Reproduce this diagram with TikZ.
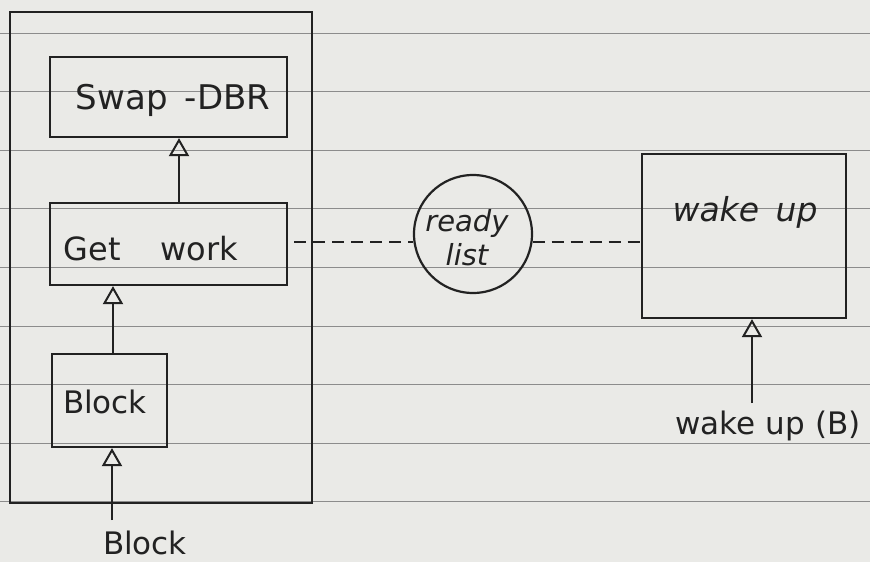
\documentclass[tikz,border=0pt]{standalone}
\usepackage{fontspec}
\setmainfont{DejaVu Sans}
\usetikzlibrary{arrows.meta,calc}
\definecolor{paper}{HTML}{EAEAE7}
\definecolor{ink}{HTML}{222222}
\definecolor{rule}{HTML}{8C8C8C}
\tikzset{
  ink/.style={draw=ink, line width=2.2pt},
  boxnode/.style={ink, rectangle, inner sep=0pt},
  txt/.style={text=ink, inner sep=0pt, font=\fontsize{31}{36}\selectfont},
  openarr/.style={draw=ink, line width=2pt, -{Triangle[open, width=20pt, length=18pt, line width=2pt]}},
  dashline/.style={draw=ink, line width=1.8pt, dash pattern=on 12pt off 7pt},
  ruled/.style={draw=rule, line width=1pt}
}
\begin{document}
\begin{tikzpicture}[x=1pt,y=-1pt]
  \fill[paper] (0,0) rectangle (870,562);
  \useasboundingbox (0,0) rectangle (870,562);
  % ruled paper
  \foreach \yy in {33,91,150,208,267,326,384,443,501}
    \draw[ruled] (0,\yy) -- (870,\yy);

  % outer frame
  \node[boxnode, line width=1.8pt, minimum width=302pt, minimum height=491pt] (outer) at (161,257.5) {};

  % boxes
  \node[boxnode, minimum width=237pt, minimum height=80pt] (swap) at (168.5,97) {};
  \node[txt, font=\fontsize{34}{40}\selectfont] (swaptxt) at (173,100) {Swap\,\,\,-DBR};

  \node[boxnode, minimum width=237pt, minimum height=82pt] (getwork) at (168.5,244) {};
  \node[txt, font=\fontsize{32}{38}\selectfont] (gettxt) at (151,249) {Get\hspace{40pt}work};

  \node[boxnode, minimum width=115pt, minimum height=93pt] (block) at (109.5,400.5) {};
  \node[txt] (blocktxt) at (105,402) {Block};

  \node[txt] (blocklbl) at (145,543) {Block};

  \node[ink, circle, minimum size=118pt, inner sep=0pt] (ready) at (473,234) {};
  \node[txt, font=\itshape\fontsize{29}{36}\selectfont, align=center] (readytxt) at (467,238) {ready\\[-2pt]list};

  \node[boxnode, minimum width=204pt, minimum height=164pt] (wakeup) at (744,236) {};
  \node[txt, font=\itshape\fontsize{33}{38}\selectfont] (waketxt) at (745,212) {wake\,\,\,up};

  \node[txt] (wakelbl) at (768,426) {wake up\,\,(B)};

  % connectors
  \coordinate (ga) at ([xshift=10.5pt]getwork.north);
  \draw[openarr] (ga) -- (ga |- swap.south);

  \coordinate (ba) at ([xshift=3.5pt]block.north);
  \draw[openarr] (ba) -- (ba |- getwork.south);

  \coordinate (bl) at (112,520);
  \draw[openarr] (bl) -- (bl |- block.south);

  \coordinate (wl) at (752,403);
  \draw[openarr] (wl) -- (wl |- wakeup.south);

  \coordinate (gd) at ([yshift=2pt]getwork.east);
  \draw[dashline, shorten <=6pt] (gd) -- (gd -| ready.188);
  \draw[dashline] (ready.352) -- (ready.352 -| wakeup.west);
\end{tikzpicture}
\end{document}
